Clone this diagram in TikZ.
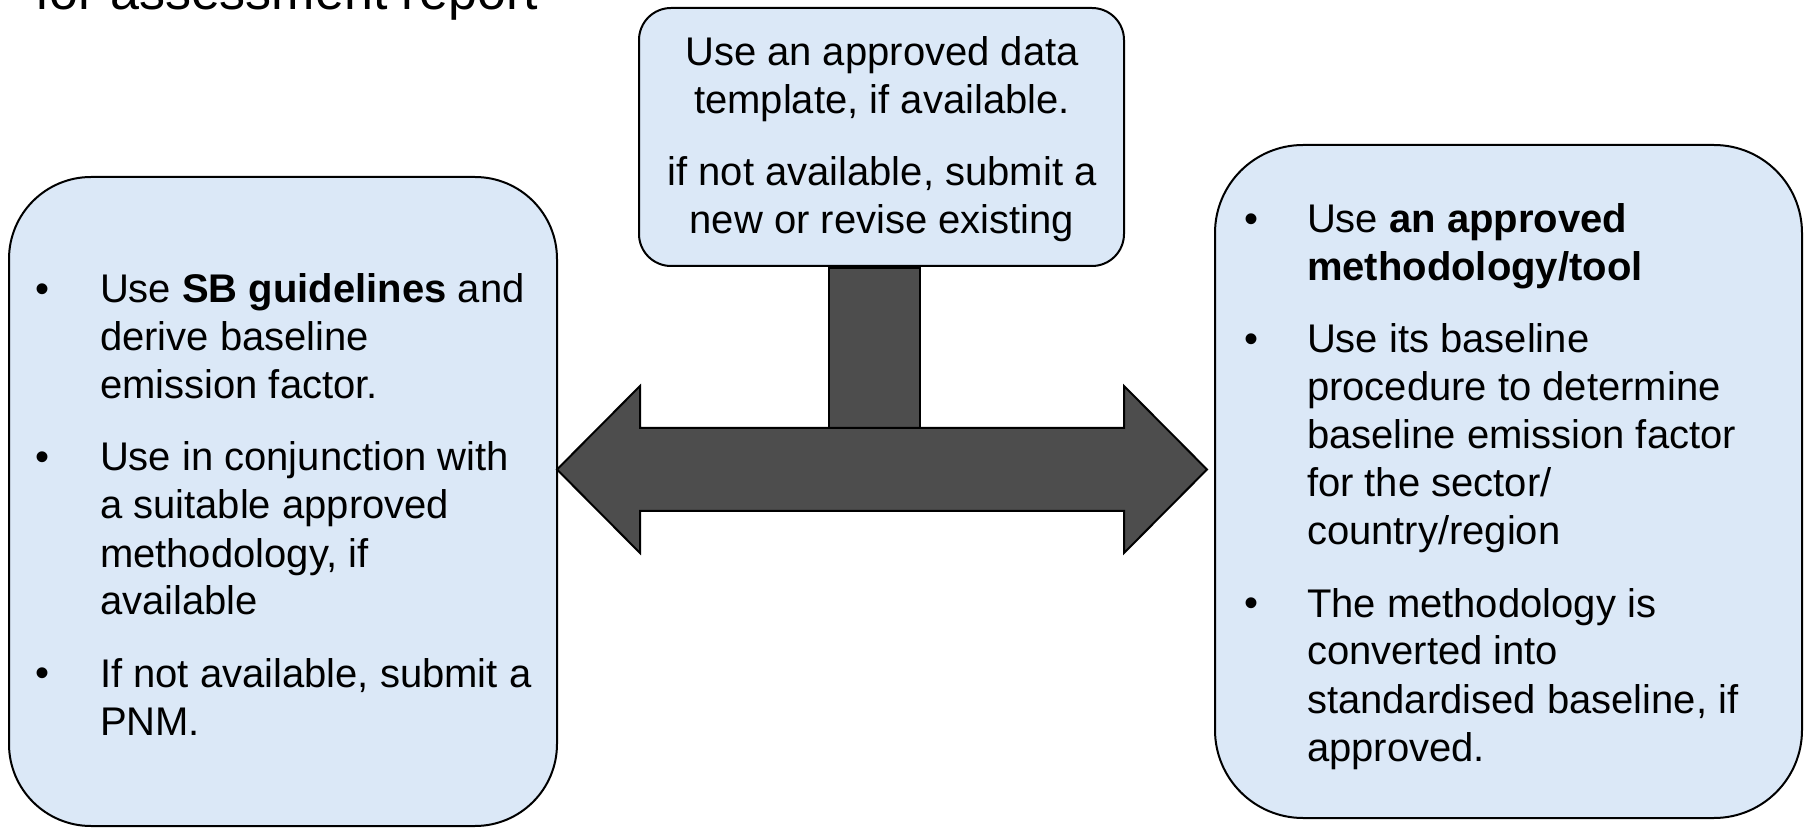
\documentclass[tikz,border=0pt]{standalone}
\usepackage{fontspec}
\setmainfont{Liberation Sans}
\usetikzlibrary{positioning}

\definecolor{boxblue}{RGB}{219,232,247}
\definecolor{arrowgray}{RGB}{77,77,77}

\begin{document}
\begin{tikzpicture}[x=0.5pt, y=-0.5pt, line width=1pt,
  every node/.style={font=\fontsize{20}{24}\selectfont},
  infobox/.style={draw, fill=boxblue, rectangle, inner sep=0pt},
  txt/.style={inner sep=0pt, align=left, anchor=base west},
  dot/.style={inner sep=0pt, anchor=base}]
\useasboundingbox (0,0) rectangle (1806,828);

\node (title) [txt, font=\fontsize{26}{31}\selectfont] at (34,10) {for assessment report};

% three boxes
\node (tbox) [infobox, rounded corners=16pt, minimum width=242.5pt,
minimum height=129pt] at (881.5,137) {};
\node (lbox) [infobox, rounded corners=41pt, minimum width=274pt,
minimum height=324.5pt] at (283,501.5) {};
\node (rbox) [infobox, rounded corners=44pt, minimum width=293.5pt,
minimum height=336.5pt] at (1508.5,481.5) {};

% stem and double arrow
\node (stem) [below=0pt of tbox, xshift=-3.5pt, draw, fill=arrowgray,
minimum width=45.5pt, minimum height=80pt, inner sep=0pt] {};
\coordinate (ltip) at (557,469.5);
\coordinate (rtip) at (1207,469.5);
\draw[fill=arrowgray] (ltip) -- (640,386) -- (640,428) -- (1124,428)
  -- (1124,386) -- (rtip) -- (1124,553) -- (1124,511) -- (640,511)
  -- (640,553) -- cycle;

% top text (base = last line)
\node (ttxt) [inner sep=0pt, align=center, anchor=base] at (882,234)
{Use an approved data\\template, if available.\\[12pt]if not available, submit a\\new or revise existing};

% left text
\node (l1dot) [dot] at (43,303) {•};
\node (l1) [txt] at (99,399) {Use \textbf{SB guidelines} and\\derive baseline\\emission factor.};
\node (l2dot) [dot] at (43,471) {•};
\node (l2) [txt] at (99,615) {Use in conjunction with\\a suitable approved\\methodology, if\\available};
\node (l3dot) [dot] at (43,687) {•};
\node (l3) [txt] at (99,735) {If not available, submit a\\PNM.};

% right text
\node (r1dot) [dot] at (1251,233) {•};
\node (r1) [txt] at (1306,281) {Use \textbf{an approved}\\\textbf{methodology/tool}};
\node (r2dot) [dot] at (1251,353) {•};
\node (r2) [txt] at (1306,545) {Use its baseline\\procedure to determine\\baseline emission factor\\for the sector/\\country/region};
\node (r3dot) [dot] at (1251,617) {•};
\node (r3) [txt] at (1306,761) {The methodology is\\converted into\\standardised baseline, if\\approved.};
\end{tikzpicture}
\end{document}
